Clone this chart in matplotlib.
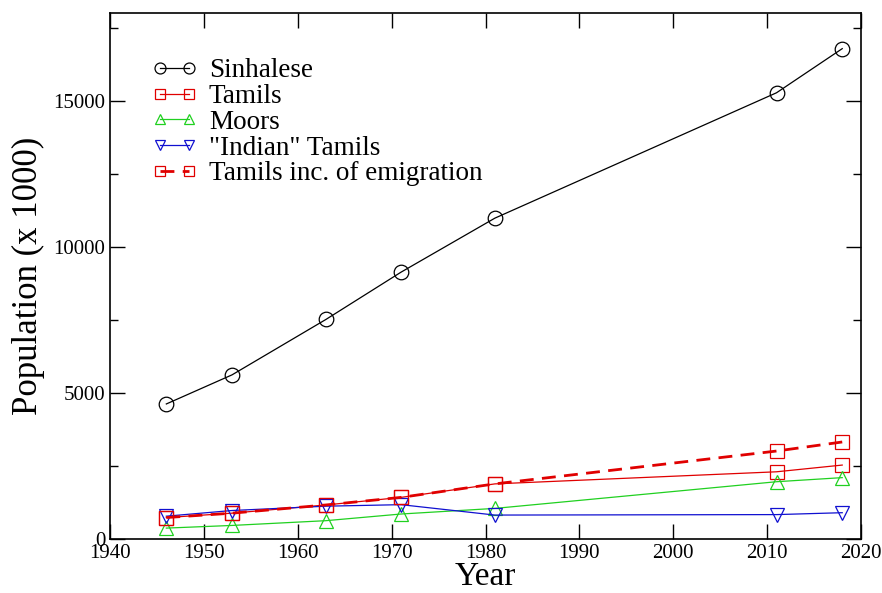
import matplotlib
matplotlib.use("Agg")
import matplotlib.pyplot as plt
from matplotlib.ticker import MultipleLocator

years = [1946, 1953, 1963, 1971, 1981, 2011, 2018]
sinhalese = [4621, 5617, 7513, 9131, 10980, 15270, 16780]
tamils = [734, 884, 1165, 1424, 1886, 2300, 2530]
moors = [373, 464, 627, 855, 1047, 1960, 2100]
indian_tamils = [781, 975, 1123, 1175, 819, 835, 900]
tamils_emig = [734, 884, 1165, 1424, 1886, 3010, 3320]

labels = ["Sinhalese", "Tamils", "Moors", '"Indian" Tamils', "Tamils inc. of emigration"]

plt.rcParams['font.family'] = ['Liberation Serif', 'DejaVu Serif']

fig = plt.figure(figsize=(8.82, 5.93), dpi=100)
ax = fig.add_axes([110/882, 54/593, 751/882, 526/593])

ms = 10.5
mew = 0.9
ax.plot(years, sinhalese, color='black', lw=0.9, marker='o', ms=ms, mfc='none', mec='black', mew=mew, label=labels[0])
ax.plot(years, tamils, color='#e00000', lw=0.9, marker='s', ms=ms, mfc='none', mec='#e00000', mew=mew, label=labels[1])
ax.plot(years, moors, color='#20d020', lw=0.9, marker='^', ms=ms, mfc='none', mec='#20d020', mew=mew, label=labels[2])
ax.plot(years, indian_tamils, color='#1010d0', lw=0.9, marker='v', ms=ms, mfc='none', mec='#1010d0', mew=mew, label=labels[3])
ax.plot(years, tamils_emig, color='#e00000', lw=2.0, ls=(0, (5, 3)), marker='s', ms=ms, mfc='none', mec='#e00000', mew=mew, label=labels[4])

ax.set_xlim(1940, 2020)
ax.set_ylim(0, 18000)
ax.xaxis.set_major_locator(MultipleLocator(10))
ax.yaxis.set_major_locator(MultipleLocator(5000))
ax.yaxis.set_minor_locator(MultipleLocator(2500))
ax.tick_params(which='both', direction='in', top=True, right=True, labelsize=15)
ax.tick_params(which='major', length=10.5, width=1.0)
ax.tick_params(which='minor', length=5.5, width=1.0)
ax.tick_params(axis='x', which='minor', bottom=False, top=False)
for s in ax.spines.values():
    s.set_linewidth(1.2)

ax.set_xlabel("Year", fontsize=24, labelpad=-1)
ax.set_ylabel("Population (x 1000)", fontsize=25, labelpad=6)

leg = ax.legend(loc='upper left', bbox_to_anchor=(0.056, 0.914), frameon=False,
                fontsize=19.5, numpoints=2, handlelength=1.65, handletextpad=0.45,
                labelspacing=0.03, borderpad=0, borderaxespad=0, markerscale=0.75)

fig.savefig("out.png", dpi=100)
